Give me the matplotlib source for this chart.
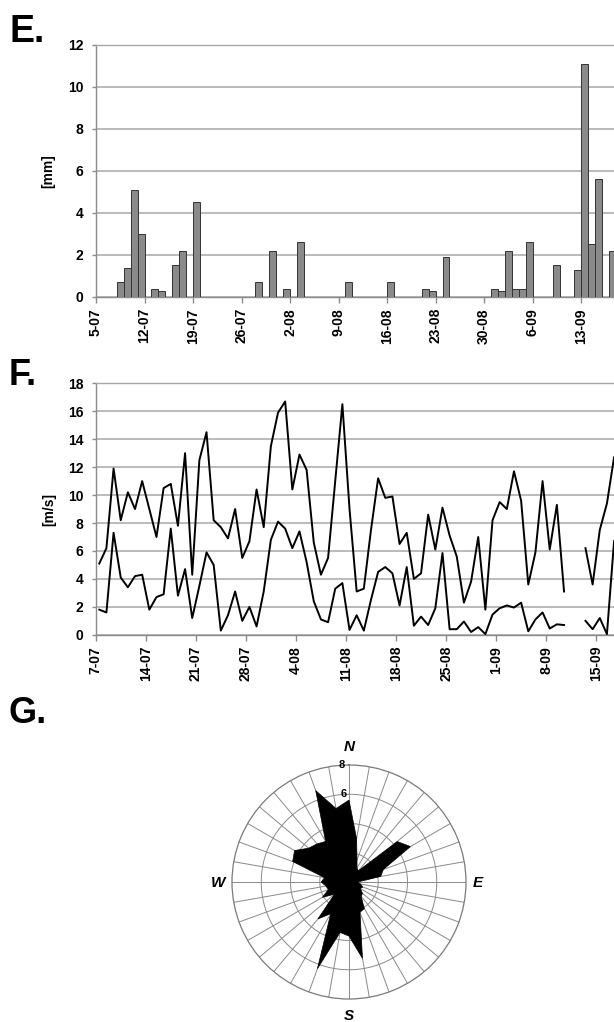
import numpy as np
import matplotlib
matplotlib.use('Agg')
import matplotlib.pyplot as plt

plt.rcParams['font.family'] = ['Liberation Sans', 'DejaVu Sans']
plt.rcParams['font.weight'] = 'bold'

# ---------------- data ----------------
# E. daily precipitation [mm], one value per day starting 5-07
rain_mm = [0, 0, 0, 0.7, 1.4, 5.1, 3.0, 0, 0.4, 0.3,
           0, 1.5, 2.2, 0, 4.5, 0, 0, 0, 0, 0,
           0, 0, 0, 0.7, 0, 2.2, 0, 0.4, 0, 2.6,
           0, 0, 0, 0, 0, 0, 0.7, 0, 0, 0,
           0, 0, 0.7, 0, 0, 0, 0, 0.4, 0.3, 0,
           1.9, 0, 0, 0, 0, 0, 0, 0.4, 0.3, 2.2,
           0.4, 0.4, 2.6, 0, 0, 0, 1.5, 0, 0, 1.3,
           11.1, 2.5, 5.6, 0, 2.2]
rain_ticklabels = ['5-07', '12-07', '19-07', '26-07', '2-08', '9-08',
                   '16-08', '23-08', '30-08', '6-09', '13-09']

# F. daily wind speed [m/s], one value per day starting 7-07 (nan = no data)
nan = np.nan
wind_max = [5.1, 6.2, 11.9, 8.2, 10.2, 9.0, 11.0, 9.0, 7.0, 10.5,
            10.8, 7.8, 13.0, 4.3, 12.5, 14.5, 8.2, 7.7, 6.9, 9.0,
            5.5, 6.7, 10.4, 7.7, 13.5, 15.9, 16.7, 10.4, 12.9, 11.8,
            6.6, 4.3, 5.5, 11.0, 16.5, 9.0, 3.1, 3.3, 7.5, 11.2,
            9.8, 9.9, 6.5, 7.3, 4.0, 4.4, 8.6, 6.1, 9.1, 7.1,
            5.6, 2.3, 3.8, 7.0, 1.8, 8.2, 9.5, 9.0, 11.7, 9.6,
            3.6, 5.9, 11.0, 6.1, 9.3, 3.1, nan, nan, 6.2, 3.6,
            7.5, 9.4, 12.7]
wind_mean = [1.8, 1.6, 7.3, 4.1, 3.4, 4.2, 4.3, 1.8, 2.7, 2.9,
             7.6, 2.8, 4.7, 1.2, 3.5, 5.9, 5.0, 0.3, 1.4, 3.1,
             1.0, 2.0, 0.6, 3.1, 6.8, 8.1, 7.6, 6.2, 7.4, 5.2,
             2.4, 1.1, 0.9, 3.3, 3.7, 0.35, 1.4, 0.3, 2.5, 4.5,
             4.85, 4.4, 2.1, 4.85, 0.65, 1.3, 0.7, 1.9, 5.85, 0.4,
             0.4, 0.95, 0.2, 0.55, 0.05, 1.45, 1.9, 2.1, 1.95, 2.3,
             0.25, 1.1, 1.6, 0.45, 0.75, 0.7, nan, nan, 1.0, 0.4,
             1.2, 0.05, 6.7]
wind_ticklabels = ['7-07', '14-07', '21-07', '28-07', '4-08', '11-08',
                   '18-08', '25-08', '1-09', '8-09', '15-09']

# G. wind rose (directions in degrees, frequency)
rose_dir = [0, 10, 20, 30, 40, 50, 60, 70, 80, 90, 100, 110,
            120, 130, 140, 150, 160, 170, 180, 190, 200, 210, 220, 230,
            240, 250, 260, 270, 280, 290, 300, 310, 320, 330, 340, 350]
rose_val = [5.6, 3.0, 1.6, 1.1, 1.0, 4.3, 4.85, 2.5, 2.2, 0.6, 0.8, 1.0,
            0.9, 1.2, 1.3, 2.1, 2.2, 5.3, 3.7, 3.5, 6.3, 2.5, 3.3, 1.3,
            2.1, 1.5, 1.6, 1.9, 1.7, 4.1, 4.3, 3.6, 3.4, 3.2, 6.65, 5.1]
rose_rings = [2, 4, 6, 8]
rose_ring_labels = ['6', '8']

# ---------------- figure ----------------
W, H = 614, 1022
fig = plt.figure(figsize=(W / 100, H / 100), dpi=100)

GRID = '#a8a8a8'
AXC = '#8c8c8c'


def px_axes(left, top, right, bottom):
    return fig.add_axes([left / W, 1 - bottom / H, (right - left) / W, (bottom - top) / H])


def style_axes(ax):
    for s in ['right']:
        ax.spines[s].set_visible(False)
    ax.spines['top'].set_color(GRID)
    ax.spines['top'].set_linewidth(1.0)
    ax.spines['left'].set_color(AXC)
    ax.spines['bottom'].set_color(AXC)
    ax.spines['left'].set_linewidth(1.0)
    ax.spines['bottom'].set_linewidth(1.0)
    ax.grid(axis='y', color=GRID, linewidth=1.1)
    ax.set_axisbelow(True)
    ax.tick_params(axis='y', labelsize=10, length=3, width=1, color=AXC, pad=6)
    ax.tick_params(axis='x', labelsize=10, length=4, width=1, color=AXC, pad=4,
                   labelrotation=90)


# ---- E. precipitation ----
axE = px_axes(96, 45, W, 297)
rain = np.array(rain_mm)
days = np.arange(len(rain))
mask = rain > 0
axE.bar(days[mask], rain[mask], width=1.0, align='edge', color='#8a8a8a',
        edgecolor='#333333', linewidth=0.7, zorder=3)
axE.set_xlim(0, (W - 96) / 6.93)
axE.set_ylim(0, 12)
axE.set_yticks(range(0, 13, 2))
axE.set_xticks(np.arange(0, 7 * len(rain_ticklabels), 7))
axE.set_xticklabels(rain_ticklabels)
style_axes(axE)
axE.set_ylabel('[mm]', fontsize=10, fontweight='bold')
axE.yaxis.set_label_coords(-(96 - 55) / (W - 96), 0.5)

# ---- F. wind speed ----
axF = px_axes(95.7, 383.3, W, 634.8)
xw = np.arange(len(wind_max)) + 0.5
axF.plot(xw, wind_max, color='black', linewidth=1.4, zorder=3)
axF.plot(xw, wind_mean, color='black', linewidth=1.4, zorder=3)
axF.set_xlim(0, (W - 95.7) / 7.15)
axF.set_ylim(0, 18)
axF.set_yticks(range(0, 19, 2))
axF.set_xticks(np.arange(0, 7 * len(wind_ticklabels), 7))
axF.set_xticklabels(wind_ticklabels)
style_axes(axF)
axF.set_ylabel('[m/s]', fontsize=10, fontweight='bold')
axF.yaxis.set_label_coords(-(95.7 - 56) / (W - 95.7), 0.5)

# ---- G. wind rose ----
cx, cy, R = 349, 882, 117
axG = fig.add_axes([(cx - R) / W, 1 - (cy + R) / H, 2 * R / W, 2 * R / H],
                   projection='polar')
axG.set_theta_zero_location('N')
axG.set_theta_direction(-1)
axG.set_ylim(0, 8)
axG.grid(False)
axG.set_xticks([])
axG.set_yticks([])
axG.spines['polar'].set_color('#7a7a7a')
axG.spines['polar'].set_linewidth(0.9)
tt = np.linspace(0, 2 * np.pi, 361)
for r in rose_rings[:-1]:
    axG.plot(tt, np.full_like(tt, r), color='#8a8a8a', linewidth=0.7, zorder=1)
for d in rose_dir:
    th = np.deg2rad(d)
    axG.plot([th, th], [0, 8], color='#8a8a8a', linewidth=0.7, zorder=1)
th = np.deg2rad(np.array(rose_dir + [rose_dir[0]]))
vals = np.array(rose_val + [rose_val[0]])
axG.fill(th, vals, color='black', zorder=3, linewidth=0.5)
for lab in rose_ring_labels:
    axG.text(np.deg2rad(-3.5), float(lab), lab, fontsize=8, fontweight='bold',
             ha='center', va='center', zorder=4)
axG.set_facecolor('white')

fig.text(cx / W, 1 - 747 / H, 'N', fontsize=11, fontweight='bold', style='italic',
         ha='center', va='center')
fig.text(cx / W, 1 - 1016 / H, 'S', fontsize=11, fontweight='bold', style='italic',
         ha='center', va='center')
fig.text(218 / W, 1 - 883 / H, 'W', fontsize=11, fontweight='bold', style='italic',
         ha='center', va='center')
fig.text(478 / W, 1 - 883 / H, 'E', fontsize=11, fontweight='bold', style='italic',
         ha='center', va='center')

# ---- panel letters ----
fig.text(9 / W, 1 - 42 / H, 'E.', fontsize=27, fontweight='bold', va='baseline')
fig.text(9 / W, 1 - 385 / H, 'F.', fontsize=26, fontweight='bold', va='baseline')
fig.text(8 / W, 1 - 723 / H, 'G.', fontsize=26, fontweight='bold', va='baseline')

fig.savefig('out.png', dpi=100, facecolor='white')
